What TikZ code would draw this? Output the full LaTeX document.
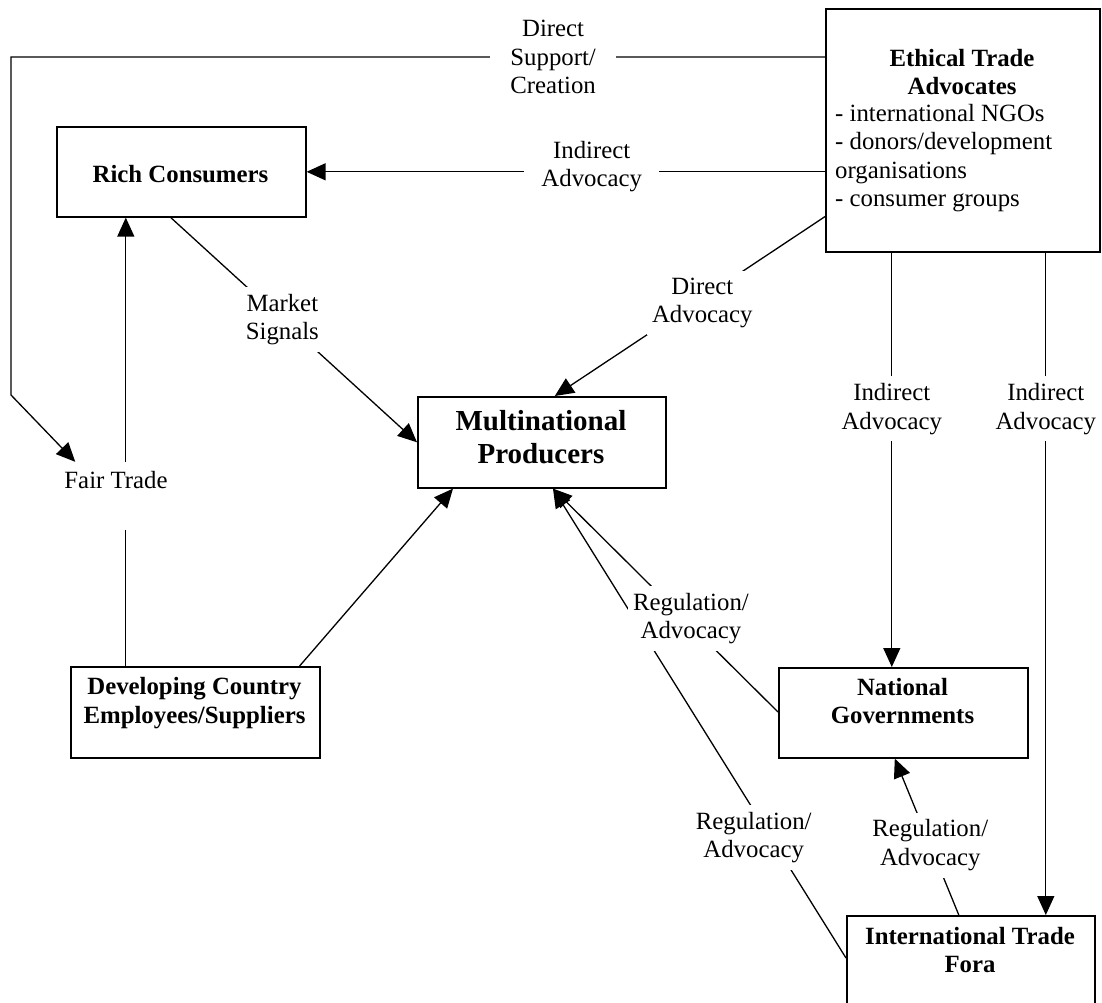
\documentclass[tikz,border=0pt]{standalone}
\usepackage{fontspec}
\setmainfont{Liberation Serif}
\usetikzlibrary{arrows.meta}
\begin{document}
\begin{tikzpicture}[x=1pt,y=-1pt,
  every node/.style={font=\fontsize{24.8pt}{28.5pt}\selectfont},
  box/.style={draw, line width=1.6pt, inner sep=0pt, anchor=north west},
  boxtxt/.style={font=\fontsize{24.8pt}{28.5pt}\selectfont\bfseries, align=center, inner sep=0pt},
  lab/.style={fill=white, align=center, inner xsep=5pt, inner ysep=7pt},
  conn/.style={line width=1.3pt},
  arr/.style={conn, -{Triangle[length=19pt,width=17pt]}},
]
\useasboundingbox (0,0) rectangle (1102,1002);
\clip (0,0) rectangle (1102,1002);

% boxes
\node[box, minimum width=274pt, minimum height=243pt] (eth) at (825,8) {};
\node[box, minimum width=249pt, minimum height=90pt] (rich) at (56,126) {};
\node[box, minimum width=248pt, minimum height=91pt] (mult) at (417,396) {};
\node[box, minimum width=249pt, minimum height=91pt] (dev) at (70,666) {};
\node[box, minimum width=249pt, minimum height=90pt] (ng) at (778,667) {};
\node[box, minimum width=248pt, minimum height=120pt] (tf) at (846,915) {};

% box texts
\node[boxtxt] (ethT) at (962,72) {Ethical Trade\\Advocates};
\node[align=left, inner sep=0pt, anchor=west] (ethL) at (835,158) {- international NGOs\\- donors/development\\organisations\\- consumer groups};
\node[boxtxt] (richT) at (180.5,174) {Rich Consumers};
\node[boxtxt, font=\fontsize{29pt}{33pt}\selectfont\bfseries] (multT) at (541,437) {Multinational\\Producers};
\node[boxtxt] (devT) at (194.5,703) {Developing Country\\Employees/Suppliers};
\node[boxtxt] (ngT) at (902.5,701) {National\\Governments};
\node[boxtxt] (tfT) at (970,950) {International Trade\\Fora};

% Fair trade
\draw[arr] ([xshift=-69.5pt]dev.north) -- ([xshift=-55.5pt]rich.south);
\node[fill=white, anchor=base, text height=26pt, text depth=42pt, inner xsep=2pt, inner ysep=0pt] (ft) at (116,488) {Fair Trade};

% Direct support / creation
\coordinate (dsA) at (11,57);
\coordinate (dsB) at (11,395);
\draw[arr] ([yshift=-49pt]eth.north west) -- node[lab, pos=0.334, inner xsep=20pt] (lDS) {Direct\\Support/\\Creation} (dsA) -- (dsB) -- ([xshift=13pt]ft.north west);

% Indirect advocacy to rich consumers
\draw[arr] (eth.west |- rich.east) -- node[lab, pos=0.45, yshift=5pt, inner xsep=17pt] (lIA) {Indirect\\Advocacy} (rich.east);

% Direct advocacy
\draw[arr] ([yshift=36pt]eth.south west) -- node[lab, pos=0.454, yshift=-5pt] (lDA) {Direct\\Advocacy} ([xshift=13pt]mult.north);

% Market signals
\draw[arr] ([xshift=-10.5pt]rich.south) -- node[lab, pos=0.453] (lMS) {Market\\Signals} (mult.west);

% Developing to multinational
\draw[arr] ([xshift=-21pt]dev.north east) -- ([xshift=36pt]mult.south west);

% Trade fora to multinational
\draw[arr] ([yshift=-43pt]tf.north west) -- node[lab, pos=0.257, xshift=-17pt] (lRA2) {Regulation/\\Advocacy} ([xshift=136pt]mult.south west);

% National governments to multinational
\draw[arr] ([yshift=-45pt]ng.north west) -- node[lab, pos=0.387, yshift=7pt] (lRA1) {Regulation/\\Advocacy} ([xshift=136pt]mult.south west);

% Trade fora to national governments
\draw[arr] ([xshift=-12pt]tf.north) -- node[lab, pos=0.446] (lRA3) {Regulation/\\Advocacy} ([xshift=-8.5pt]ng.south);

% Ethical to national governments
\draw[arr] ([xshift=-11.5pt]ng.north |- eth.south) -- node[lab, pos=0.377] (lIA2) {Indirect\\Advocacy} ([xshift=-11.5pt]ng.north);

% Ethical to trade fora
\draw[arr] ([xshift=75pt]tf.north |- eth.south) -- node[lab, pos=0.236] (lIA3) {Indirect\\Advocacy} ([xshift=75pt]tf.north);
\end{tikzpicture}
\end{document}
